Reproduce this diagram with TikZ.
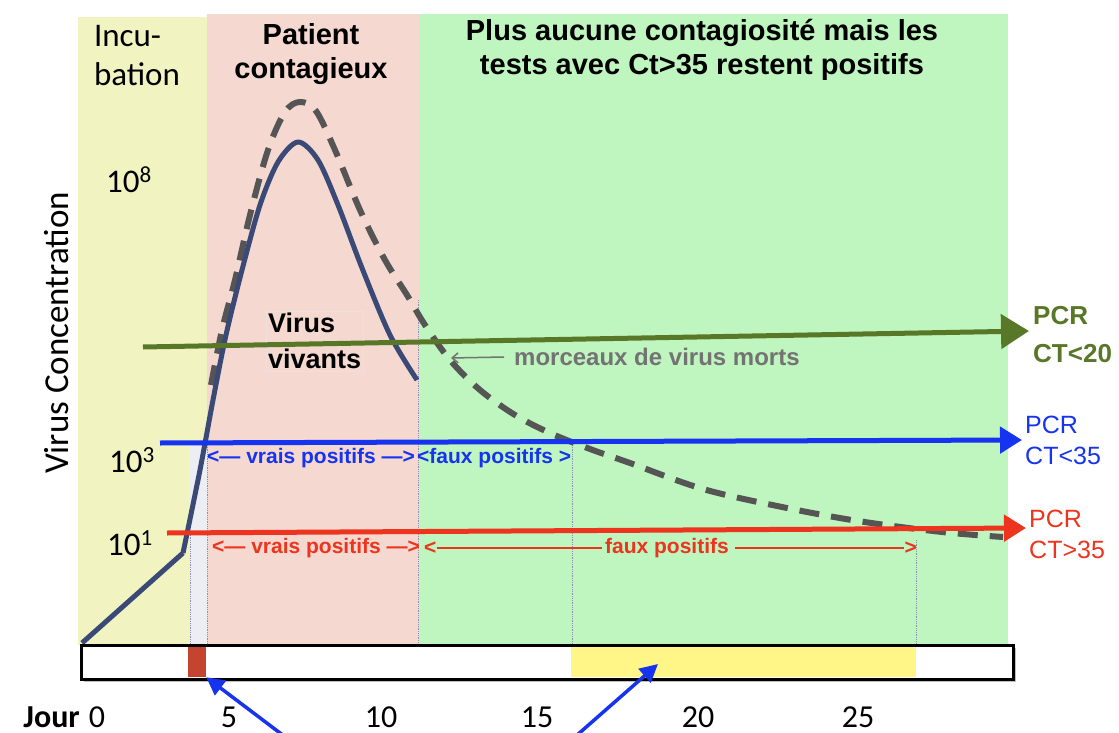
\documentclass[tikz,border=0pt]{standalone}
\usepackage{fontspec}
\setmainfont{Liberation Sans}
\newfontfamily\calibfont{Carlito}
\usetikzlibrary{arrows.meta}

\definecolor{incubband}{RGB}{241,243,193}
\definecolor{contband}{RGB}{245,216,207}
\definecolor{negband}{RGB}{191,245,190}
\definecolor{stripband}{RGB}{236,238,243}
\definecolor{vivcurve}{RGB}{58,73,118}
\definecolor{mortcurve}{RGB}{85,85,85}
\definecolor{pcrgreen}{RGB}{88,120,40}
\definecolor{pcrblue}{RGB}{22,52,240}
\definecolor{pcrred}{RGB}{236,52,30}
\definecolor{mortgray}{RGB}{115,115,115}
\definecolor{daymark}{RGB}{196,68,48}
\definecolor{dayyellow}{RGB}{255,246,135}
\definecolor{sepline}{RGB}{140,145,180}
\definecolor{vvbox}{RGB}{238,224,220}

\begin{document}
\begin{tikzpicture}[x=1pt, y=-1pt,
	head/.style={font=\fontsize{29}{34}\selectfont\bfseries, align=center, inner sep=0},
	axis/.style={font=\calibfont\fontsize{33}{39}\selectfont, inner sep=0},
	day/.style={font=\calibfont\fontsize{32}{38}\selectfont, anchor=base, inner sep=0},
	pcr/.style={font=\fontsize{25}{31}\selectfont, align=left, anchor=west, inner sep=0},
	posit/.style={font=\fontsize{21}{24}\selectfont\bfseries, anchor=west, inner sep=0},
	sep/.style={sepline, line width=0.8pt, densely dotted},
	pcrline/.style={line width=5pt, -{Triangle[length=22pt, width=26pt]}},
	]
	\useasboundingbox (0,0) rectangle (1119,733);

	% phases
	\fill[incubband] (78,17) rectangle (207,645);
	\fill[contband] (207,14) rectangle (420,645);
	\fill[negband] (420,14) rectangle (1008,645);
	\fill[stripband] (189,445) rectangle (207,645);

	\draw[sep] (190,533) -- (190,645);
	\draw[sep] (207,445) -- (207,645);
	\draw[sep] (418,300) -- (418,645);
	\draw[sep] (572,445) -- (572,645);
	\draw[sep] (916,540) -- (916,645);

	\node[axis, align=left] (incu) at (137,56) {Incu-\\bation};
	\node[head] (contag) at (311,54) {Patient\\contagieux};
	\node[head] (plus) at (702,50) {Plus aucune contagiosité mais les\\tests avec Ct>35 restent positifs};

	% axis
	\node[axis, font=\calibfont\fontsize{35}{40}\selectfont, rotate=90] (vconc) at (57,333) {Virus Concentration};
	\node[axis, anchor=base west] (e8) at (106,192) {10\textsuperscript{8}};
	\node[axis, anchor=base west] (e3) at (109,472) {10\textsuperscript{3}};
	\node[axis, anchor=base west] (e1) at (107,555) {10\textsuperscript{1}};

	% virus curves
	\draw[mortcurve, line width=6pt, dash pattern=on 20pt off 12pt] plot[smooth, tension=0.55] coordinates {
		(211,385) (222,330) (235,280) (250,215) (268,150) (285,112) (300,102) (316,111)
		(335,150) (360,210) (385,260) (407,295) (425,325) (450,360) (480,390) (515,415)
		(550,433) (590,449) (630,463) (703,489) (782,507) (858,521) (942,532) (1003,537)};
	\draw[vivcurve, line width=5pt, line join=round] (82,643) -- (183,553)
		plot[smooth, tension=0.5] coordinates {(183,553) (200,470) (213,400) (226,335)
		(242,270) (260,205) (278,162) (298,142) (318,160) (338,205) (362,268) (390,335) (417,380)};

	\node[draw=vvbox, font=\fontsize{27}{36}\selectfont\bfseries, align=left, inner sep=2pt, anchor=west] (vivants) at (266,341) {Virus\\vivants};

	% PCR thresholds
	\coordinate (g0) at (143,347);
	\coordinate (g1) at (1029,331);
	\coordinate (b0) at (160,443);
	\coordinate (b1) at (1022,440);
	\coordinate (r0) at (167,533);
	\coordinate (r1) at (1026,528);
	\draw[pcrline, pcrgreen, -{Triangle[length=28pt, width=34pt]}] (g0) -- (g1);
	\draw[pcrline, pcrblue] (b0) -- (b1);
	\draw[pcrline, pcrred] (r0) -- (r1);

	\node[pcr, pcrgreen, font=\fontsize{26}{38}\selectfont\bfseries] (pcr20) at (1033,335) {PCR\\CT<20};
	\node[pcr, pcrblue] (pcr35a) at (1025,440) {PCR\\CT<35};
	\node[pcr, pcrred] (pcr35b) at (1029,534) {PCR\\CT>35};

	\node[font=\fontsize{24}{28}\selectfont\bfseries, mortgray, anchor=west, inner sep=0] (morts) at (514,357) {morceaux de virus morts};
	\coordinate (mortstip) at (451,358);
	\draw[mortgray, line width=1.5pt, -{Straight Barb[length=6pt, width=10pt]}] (morts.west) ++(-10,0) -- (mortstip);

	% true / false positives
	\node[posit, pcrblue] (bvrais) at (207,458) {<— vrais positifs —>};
	\node[posit, pcrblue] (bfaux) at (417,458) {<faux positifs >};
	\node[posit, pcrred] (rvrais) at (212,548) {<— vrais positifs —>};
	\node[posit, pcrred] (rlt) at (424,548) {<};
	\node[posit, pcrred, anchor=center] (rfaux) at (667,548) {faux positifs};
	\node[posit, pcrred, anchor=east] (rgt) at (917,548) {>};
	\draw[pcrred, line width=1.5pt] (rlt.east) -- ([xshift=-3pt]rfaux.west);
	\draw[pcrred, line width=1.5pt] ([xshift=6pt]rfaux.east) -- (rgt.west);

	% timeline
	\fill[black!25] (84,648) rectangle (1016,682);
	\draw[line width=3pt, fill=white] (81,645) rectangle (1013,679);
	\node[fill=daymark, minimum width=18pt, minimum height=30pt, inner sep=0] (mark) at (197,662) {};
	\node[fill=dayyellow, minimum width=345pt, minimum height=30pt, inner sep=0] (falsezone) at (743.5,662) {};
	\coordinate (fztip) at (658,664);

	\coordinate (arrL) at (284,736);
	\coordinate (arrR) at (576,736);
	\draw[pcrblue, line width=3.5pt, -{Triangle[length=18pt, width=18pt]}] (arrL) -- (mark.south east);
	\draw[pcrblue, line width=3.5pt, -{Triangle[length=18pt, width=18pt]}] (arrR) -- (fztip);

	% days
	\node[day, font=\calibfont\fontsize{32}{38}\selectfont\bfseries, anchor=base east] (jour) at (80,727) {Jour};
	\node[day] (d0) at (97,727) {0};
	\node[day] (d5) at (229,727) {5};
	\node[day] (d10) at (381,727) {10};
	\node[day] (d15) at (537,727) {15};
	\node[day] (d20) at (698,727) {20};
	\node[day] (d25) at (858,727) {25};
\end{tikzpicture}
\end{document}
